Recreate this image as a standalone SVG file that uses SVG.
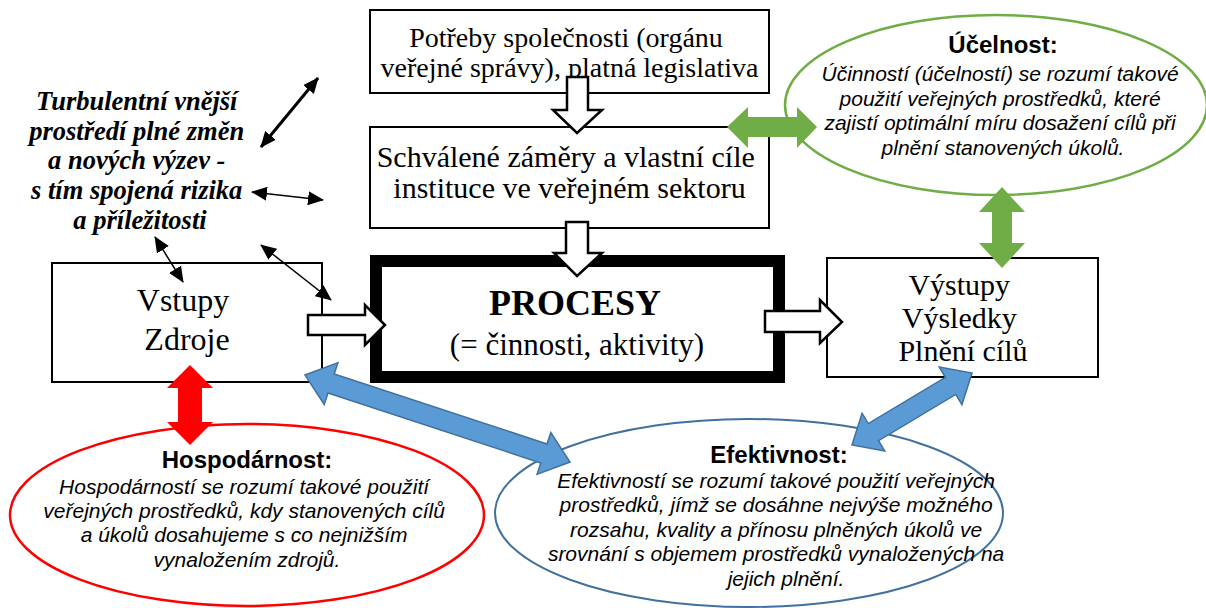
<svg xmlns="http://www.w3.org/2000/svg" width="1206" height="608" viewBox="0 0 1206 608">
<defs>
<style>
.box{fill:#fff;stroke:#000;stroke-width:2}
.serif{font-family:"Liberation Serif","Times New Roman",serif;fill:#000;text-anchor:middle}
.sans{font-family:"Liberation Sans",Arial,sans-serif;fill:#000;text-anchor:middle}
.ttl{font-weight:bold;font-size:24px}
.body{font-style:italic;font-size:21px}
.hollow{fill:#fff;stroke:#000;stroke-width:2.5;stroke-linejoin:miter}
.blue{fill:#5B9BD5;stroke:#41719C;stroke-width:1.5}
.thin{stroke:#000;fill:none;marker-start:url(#ah);marker-end:url(#ah)}
</style>
<marker id="ah" viewBox="0 0 16 14" refX="15" refY="7" markerUnits="userSpaceOnUse" markerWidth="16" markerHeight="14" orient="auto-start-reverse">
<path d="M0,0 L16,7 L0,14 Z" fill="#000"/>
</marker>
</defs>

<g id="env-text">
<text class="serif" font-weight="bold" font-style="italic" font-size="26.5">
<tspan x="140" y="110">Turbulentní vnější</tspan>
<tspan x="140" y="140">prostředí plné změn</tspan>
<tspan x="140" y="169">a nových výzev -</tspan>
<tspan x="140" y="199">s tím spojená rizika</tspan>
<tspan x="140" y="229">a příležitosti</tspan>
</text>
</g>

<g id="ellipse-ucelnost">
<ellipse cx="996" cy="105" rx="211" ry="90" fill="#fff" stroke="#70AD47" stroke-width="2.5"/>
<text class="sans ttl" x="1003" y="53">Účelnost:</text>
<text class="sans body">
<tspan x="1003" y="81">Účinností (účelností) se rozumí takové</tspan>
<tspan x="1003" y="106">použití veřejných prostředků, které</tspan>
<tspan x="1003" y="130">zajistí optimální míru dosažení cílů při</tspan>
<tspan x="1003" y="155">plnění stanovených úkolů.</tspan>
</text>
</g>

<g id="ellipse-hospodarnost">
<ellipse cx="247" cy="515" rx="237" ry="91" fill="#fff" stroke="#FF0000" stroke-width="2.5"/>
<text class="sans ttl" x="247" y="468">Hospodárnost:</text>
<text class="sans body">
<tspan x="247" y="494">Hospodárností se rozumí takové použití</tspan>
<tspan x="247" y="518">veřejných prostředků, kdy stanovených cílů</tspan>
<tspan x="247" y="542">a úkolů dosahujeme s co nejnižším</tspan>
<tspan x="247" y="567">vynaložením zdrojů.</tspan>
</text>
</g>

<g id="ellipse-efektivnost">
<ellipse cx="749" cy="513" rx="254" ry="94" fill="#fff" stroke="#41719C" stroke-width="2"/>
<text class="sans ttl" x="779" y="463">Efektivnost:</text>
<text class="sans body">
<tspan x="779" y="488">Efektivností se rozumí takové použití veřejných</tspan>
<tspan x="779" y="512">prostředků, jímž se dosáhne nejvýše možného</tspan>
<tspan x="779" y="537">rozsahu, kvality a přínosu plněných úkolů ve</tspan>
<tspan x="779" y="561">srovnání s objemem prostředků vynaložených na</tspan>
<tspan x="786" y="586">jejich plnění.</tspan>
</text>
</g>

<g id="box-potreby">
<rect class="box" x="370" y="10" width="399" height="83"/>
<text class="serif" font-size="28">
<tspan x="569.5" y="47">Potřeby společnosti (orgánu</tspan>
<tspan x="569.5" y="77">veřejné správy), platná legislativa</tspan>
</text>
</g>

<g id="box-zamery">
<rect class="box" x="370" y="127" width="399" height="101"/>
<text class="serif" font-size="30">
<tspan x="569.5" y="167">Schválené záměry a vlastní cíle</tspan>
<tspan x="569.5" y="198">instituce ve veřejném sektoru</tspan>
</text>
</g>

<g id="box-vstupy">
<rect class="box" x="52" y="263" width="270" height="119"/>
<text class="serif" font-size="32">
<tspan x="187" y="311">Vstupy</tspan>
<tspan x="187" y="350">Zdroje</tspan>
</text>
</g>

<g id="box-procesy">
<rect x="376" y="261" width="403" height="116" fill="#fff" stroke="#000" stroke-width="12"/>
<text class="serif" font-weight="bold" font-size="36" x="575" y="315">PROCESY</text>
<text class="serif" font-size="31" x="577" y="355">(= činnosti, aktivity)</text>
</g>

<g id="box-vystupy">
<rect class="box" x="827" y="258" width="271" height="119"/>
<text class="serif" font-size="30">
<tspan x="963" y="295">Výstupy</tspan>
<tspan x="963" y="328">Výsledky</tspan>
<tspan x="963" y="361">Plnění cílů</tspan>
</text>
</g>

<g id="connectors">
<path class="hollow" d="M567,77 L588,77 L588,110 L602,110 L577,133 L553,110 L567,110 Z"/>
<path class="hollow" d="M566,222 L588,222 L588,253 L602,253 L577,276 L554,253 L566,253 Z"/>
<path class="hollow" d="M308,315 L365,315 L365,305 L385,325 L365,345 L365,335 L308,335 Z"/>
<path class="hollow" d="M765,311 L820,311 L820,300 L842,322 L820,343 L820,332 L765,332 Z"/>

<line class="thin" stroke-width="3" x1="318" y1="78" x2="261" y2="147"/>
<line class="thin" stroke-width="1.5" x1="252" y1="192" x2="323" y2="200"/>
<line class="thin" stroke-width="1.5" x1="261" y1="245" x2="331" y2="300"/>
<line class="thin" stroke-width="1.5" x1="155" y1="237" x2="183" y2="282"/>

<path fill="#70AD47" d="M727,127 L748,107 L748,117 L797,117 L797,107 L817,127 L797,148 L797,137 L748,137 L748,148 Z"/>
<path fill="#70AD47" d="M1002,187 L1025,212 L1012,212 L1012,243 L1025,243 L1002,268 L979,243 L992,243 L992,212 L979,212 Z"/>

<path fill="#FF0000" d="M190,365 L213,388 L202,388 L202,422 L213,422 L190,445 L167,422 L178,422 L178,388 L167,388 Z"/>

<path class="blue" transform="translate(437.5,418.5) rotate(18.18)" d="M-139.5,0 L-112,-22 L-112,-10 L112,-10 L112,-22 L139.5,0 L112,22 L112,10 L-112,10 L-112,22 Z"/>
<path class="blue" transform="translate(912,409) rotate(-30.96)" d="M-70,0 L-45,-22 L-45,-10 L45,-10 L45,-22 L70,0 L45,22 L45,10 L-45,10 L-45,22 Z"/>
</g>
</svg>
